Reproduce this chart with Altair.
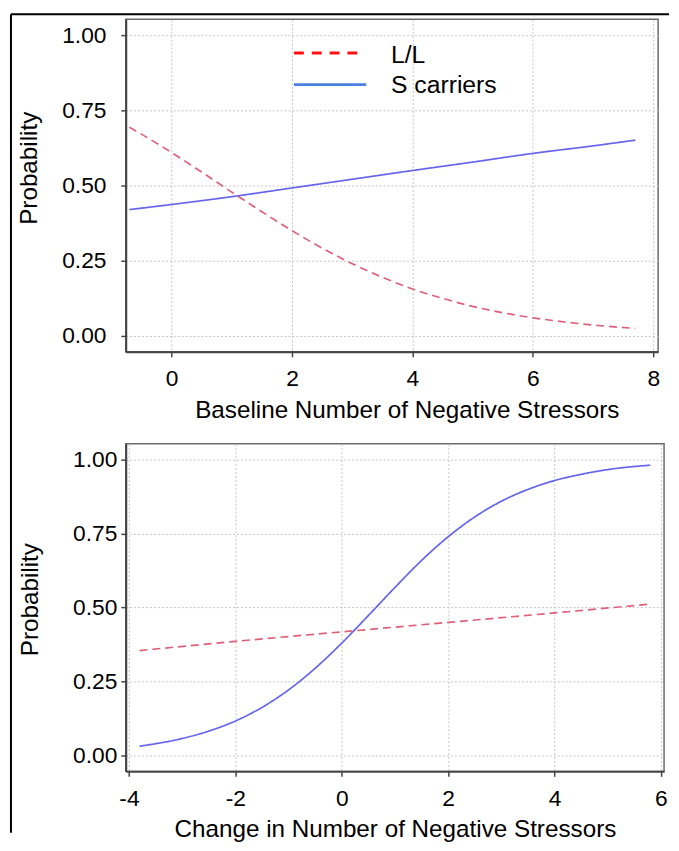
import altair as alt
import pandas as pd

series = ["L/L", "S carriers"]
colors = ["#e0607a", "#6464ec"]
legend_colors = ["#ff1010", "#4a80e0"]

# Top panel: Baseline number of negative stressors
top_x_ll = [-0.7, -0.5, 0, 0.5, 1, 1.5, 2, 2.5, 3, 3.5, 4, 4.5, 5, 5.5, 6, 6.5, 7, 7.7]
top_ll = [0.694, 0.671, 0.61, 0.545, 0.478, 0.413, 0.35, 0.292, 0.24, 0.195, 0.156, 0.125,
          0.098, 0.077, 0.06, 0.047, 0.036, 0.025]
top_x_s = [-0.7, 0, 1, 2, 3, 4, 5, 6, 7, 7.7]
top_s = [0.42, 0.437, 0.463, 0.492, 0.521, 0.55, 0.578, 0.607, 0.632, 0.651]

# Bottom panel: Change in number of negative stressors
bot_x_ll = [-3.8, -2, 0, 2, 4, 5.8]
bot_ll = [0.355, 0.386, 0.418, 0.45, 0.482, 0.512]
bot_x_s = [-3.8, -3, -2.5, -2, -1.5, -1, -0.5, 0, 0.5, 1, 1.5, 2, 2.5, 3, 3.5, 4, 4.5, 5, 5.8]
bot_s = [0.032, 0.058, 0.083, 0.117, 0.163, 0.222, 0.295, 0.38, 0.473, 0.568, 0.659, 0.739,
         0.806, 0.859, 0.899, 0.929, 0.95, 0.966, 0.981]

y_ticks = [0, 0.25, 0.5, 0.75, 1.0]
top_x_ticks = [0, 2, 4, 6, 8]
bot_x_ticks = [-4, -2, 0, 2, 4, 6]

FONT = "Liberation Sans"


def long_df(x_ll, y_ll, x_s, y_s):
    rows = [{"x": a, "p": b, "series": series[0]} for a, b in zip(x_ll, y_ll)]
    rows += [{"x": a, "p": b, "series": series[1]} for a, b in zip(x_s, y_s)]
    return pd.DataFrame(rows)


def lines(df, xdom, xticks, xtitle, w, h, ylabpad, ytitlex, ytitley, xtitlex):
    color = alt.Color("series:N", scale=alt.Scale(domain=series, range=colors), legend=None)
    dash = alt.StrokeDash("series:N", scale=alt.Scale(domain=series, range=[[8, 5], [1, 0]]), legend=None)
    xaxis = alt.Axis(values=xticks, title=xtitle, format="d", labelBaseline="alphabetic",
                     labelExpr="replace(datum.label, '\u2212', '-')",
                     labelPadding=29, titleBaseline="alphabetic", titleY=66, titleX=xtitlex)
    yaxis = alt.Axis(values=y_ticks, title="Probability", format=".2f", labelPadding=ylabpad,
                     titleX=ytitlex, titleY=ytitley)
    return alt.Chart(df).mark_line(strokeWidth=1.7, interpolate="monotone").encode(
        x=alt.X("x:Q", scale=alt.Scale(domain=xdom, nice=False, zero=False), axis=xaxis),
        y=alt.Y("p:Q", scale=alt.Scale(domain=[-0.053, 1.053], nice=False, zero=False), axis=yaxis),
        color=color,
        strokeDash=dash,
        detail="series:N",
    ).properties(width=w, height=h)


one = pd.DataFrame({"k": [0]})

top_lines = lines(long_df(top_x_ll, top_ll, top_x_s, top_s), [-0.76, 8.08], top_x_ticks,
                  "Baseline Number of Negative Stressors", 538, 336, 15, -85, 150, 284)

leg_red = alt.Chart(one).mark_rule(color=legend_colors[0], strokeWidth=3, strokeDash=[10, 8]).encode(
    x=alt.value(170), x2=alt.value(240), y=alt.value(34))
leg_blue = alt.Chart(one).mark_rule(color=legend_colors[1], strokeWidth=3).encode(
    x=alt.value(170), x2=alt.value(243), y=alt.value(66))
leg_t1 = alt.Chart(one).mark_text(align="left", baseline="alphabetic", fontSize=25, font=FONT,
                                  color="black").encode(
    x=alt.value(268), y=alt.value(44), text=alt.value(series[0]))
leg_t2 = alt.Chart(one).mark_text(align="left", baseline="alphabetic", fontSize=25, font=FONT,
                                  color="black").encode(
    x=alt.value(268), y=alt.value(74), text=alt.value(series[1]))

border_v = alt.Chart(one).mark_rule(color="black", strokeWidth=2).encode(
    x=alt.value(-116), y=alt.value(-5), y2=alt.value(822))
border_h = alt.Chart(one).mark_rule(color="black", strokeWidth=2).encode(
    x=alt.value(-116), x2=alt.value(549), y=alt.value(-5))

top = alt.layer(top_lines, leg_red, leg_blue, leg_t1, leg_t2, border_v, border_h)

bottom = lines(long_df(bot_x_ll, bot_ll, bot_x_s, bot_s), [-4.06, 6.06], bot_x_ticks,
               "Change in Number of Negative Stressors", 544, 331, 4, -84, 157, 272)

chart = alt.vconcat(top, bottom, spacing=93, bounds="flush").configure(
    padding={"left": 1, "top": 0, "right": 0, "bottom": 0},
    font=FONT,
).configure_view(
    stroke="#6a6a6a", strokeWidth=1.5
).configure_axis(
    domainColor="#444444", domainWidth=2,
    tickColor="#444444", tickWidth=1.5, tickSize=5,
    gridColor="#c4c4c4", gridDash=[2, 2], gridWidth=1,
    labelFont=FONT, labelFontSize=23, labelColor="black",
    titleFont=FONT, titleFontSize=24.5, titleFontWeight="normal", titleColor="black",
)

chart.save("out.html", embed_options={"renderer": "svg", "actions": False})
